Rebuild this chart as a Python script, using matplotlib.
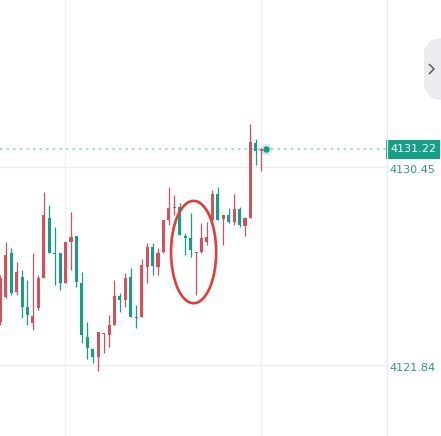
import matplotlib
matplotlib.use('Agg')
import matplotlib.pyplot as plt
import matplotlib.transforms as mtrans
from matplotlib.patches import Ellipse, Rectangle, Polygon
from matplotlib.lines import Line2D
import numpy as np

# candle data (red = up, green = down)
opens = [4123.71, 4124.80, 4126.71, 4125.01, 4125.67, 4124.36, 4123.67, 4124.32, 4125.62, 4128.23,
         4126.71, 4126.71, 4125.41, 4127.19, 4127.45, 4125.41, 4123.06, 4122.54, 4122.19, 4123.19,
         4123.15, 4123.58, 4124.84, 4124.67, 4125.67, 4123.93, 4123.93, 4126.10, 4126.97, 4126.10,
         4126.75, 4128.15, 4128.67, 4128.71, 4127.45, 4127.36, 4126.71, 4126.75, 4127.19, 4128.15,
         4129.28, 4128.19, 4128.36, 4128.06, 4128.62, 4127.89, 4128.23, 4131.49, 4131.15]
highs = [4125.75, 4127.19, 4126.93, 4126.32, 4125.97, 4125.54, 4126.71, 4125.75, 4129.36, 4128.80,
         4127.84, 4126.71, 4127.19, 4128.49, 4127.45, 4125.88, 4123.71, 4122.54, 4123.28, 4123.23,
         4124.02, 4125.54, 4124.97, 4125.84, 4126.06, 4124.45, 4126.45, 4127.15, 4127.15, 4126.93,
         4128.15, 4129.58, 4129.23, 4128.88, 4127.58, 4128.45, 4126.75, 4128.02, 4128.06, 4129.45,
         4129.58, 4128.36, 4128.67, 4129.28, 4128.71, 4128.28, 4132.32, 4131.67, 4131.28]
lows = [4123.58, 4124.75, 4124.88, 4124.88, 4123.88, 4123.58, 4123.36, 4124.23, 4125.62, 4126.71,
        4125.32, 4125.10, 4125.41, 4125.97, 4125.23, 4122.80, 4122.10, 4121.93, 4121.58, 4122.36,
        4122.62, 4123.58, 4124.15, 4124.36, 4123.93, 4123.45, 4123.93, 4125.41, 4125.75, 4125.75,
        4126.71, 4127.93, 4128.36, 4127.49, 4126.62, 4126.54, 4124.88, 4126.71, 4127.06, 4128.15,
        4128.15, 4127.06, 4128.02, 4127.93, 4127.84, 4127.45, 4128.23, 4130.54, 4130.28]
closes = [4125.62, 4126.62, 4124.97, 4125.88, 4124.36, 4124.02, 4123.97, 4125.62, 4128.36, 4126.71,
          4126.67, 4125.41, 4127.19, 4127.41, 4125.45, 4123.15, 4122.58, 4122.19, 4123.28, 4123.23,
          4123.58, 4124.84, 4124.67, 4125.62, 4123.93, 4123.88, 4126.19, 4126.97, 4126.15, 4126.71,
          4128.15, 4128.67, 4128.71, 4127.49, 4127.36, 4126.84, 4126.75, 4127.36, 4127.41, 4129.28,
          4128.15, 4128.36, 4128.06, 4128.62, 4127.93, 4128.23, 4131.54, 4131.15, 4131.22]

last_price = 4131.22
scale_labels = [4130.45, 4121.84]

RED = '#d4505c'
GREEN = '#14a085'
TEAL_TXT = '#2a9a88'

W, H = 441, 436
fig = plt.figure(figsize=(W / 100, H / 100), dpi=100)
fig.patch.set_facecolor('white')
ax = fig.add_axes([0, 0, 387 / W, 1])
ax.set_axis_off()

step = 5.4375  # px per candle
x0 = -0.3 / step
ax.set_xlim(x0, x0 + 387 / step)
ax.set_ylim(4118.75, 4137.71)

# grid
for gx in [65, 261]:
    ax.axvline((gx - 0.3) / step, color='#f1f1f4', lw=0.9, zorder=0)
for gy in scale_labels:
    ax.axhline(gy, color='#ededf1', lw=0.9, zorder=0)

# current price dotted line
ax.axhline(last_price, color='#a6d9cf', lw=1.4, ls=(0, (1.2, 2.2)), zorder=1)

idx = np.arange(len(opens))
for i, o, h, l, c in zip(idx, opens, highs, lows, closes):
    col = RED if c >= o else GREEN
    ax.vlines(i, l, h, color=col, lw=0.9, zorder=3)
    bottom = min(o, c)
    height = max(abs(c - o), 0.05)
    ax.bar(i, height, bottom=bottom, width=0.56, color=col, lw=0, zorder=4)

# last price glow dot
ax.scatter([len(opens) - 0.1], [last_price], s=70, color=GREEN, alpha=0.18, lw=0, zorder=5)
ax.scatter([len(opens) - 0.1], [last_price], s=22, color=GREEN, lw=0, zorder=6)

# red circle mark
ax.add_patch(Ellipse((35.55, 4126.75), 8.3, 4.45, fill=False, ec='#e53a3a', lw=1.9, zorder=7))

# right price scale
tr = mtrans.blended_transform_factory(fig.transFigure, ax.transData)
fig.add_artist(Line2D([387 / W, 387 / W], [0, 1], color='#e8e8ee', lw=0.9))
fig.add_artist(Rectangle((386 / W, 4130.80), 54 / W, 0.82, transform=tr, color=GREEN, lw=0))
fig.text(413 / W, last_price, f'{last_price:.2f}', transform=tr, color='white',
         fontsize=8, ha='center', va='center')
for v in scale_labels:
    fig.text(412 / W, v - 0.12, f'{v:.2f}', transform=tr, color=TEAL_TXT,
             fontsize=8, ha='center', va='center')

# collapse tab on the right
pts = [(441, 38), (431, 40), (424, 50), (424, 88), (431, 98), (441, 100)]
fig.add_artist(Polygon([(x / W, 1 - y / H) for x, y in pts], closed=True,
                       color='#ececf0', lw=0, transform=fig.transFigure))
fig.add_artist(Line2D([429.5 / W, 434 / W, 429.5 / W],
                      [1 - 64.5 / H, 1 - 69 / H, 1 - 73.5 / H],
                      color='#5a5a60', lw=1.1, transform=fig.transFigure))

fig.savefig('out.png', dpi=100)
